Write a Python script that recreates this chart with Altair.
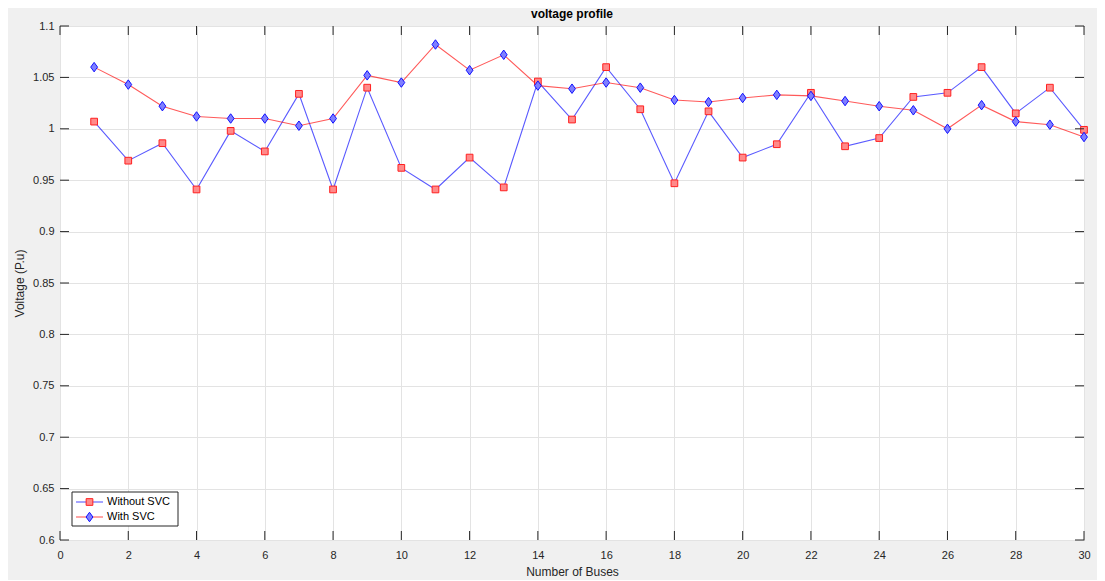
import altair as alt
import pandas as pd

# ---- data ----
buses = list(range(1, 31))
without_svc = [1.007, 0.969, 0.986, 0.941, 0.998, 0.978, 1.034, 0.941, 1.040, 0.962,
               0.941, 0.972, 0.943, 1.046, 1.009, 1.060, 1.019, 0.947, 1.017, 0.972,
               0.985, 1.035, 0.983, 0.991, 1.031, 1.035, 1.060, 1.015, 1.040, 0.999]
with_svc = [1.060, 1.043, 1.022, 1.012, 1.010, 1.010, 1.003, 1.010, 1.052, 1.045,
            1.082, 1.057, 1.072, 1.042, 1.039, 1.045, 1.040, 1.028, 1.026, 1.030,
            1.033, 1.032, 1.027, 1.022, 1.018, 1.000, 1.023, 1.007, 1.004, 0.992]
x_ticks = list(range(0, 31, 2))
y_ticks = [0.6, 0.65, 0.7, 0.75, 0.8, 0.85, 0.9, 0.95, 1.0, 1.05, 1.1]
legend_labels = ["Without SVC", "With SVC"]

W, H = 1024, 514
FONT = "Liberation Sans"
DIAMOND = "M0,-1L0.72,0L0,1L-0.72,0Z"

df_wo = pd.DataFrame({"bus": buses, "v": without_svc})
df_w = pd.DataFrame({"bus": buses, "v": with_svc})

xs = alt.Scale(domain=[0, 30], nice=False)
ys = alt.Scale(domain=[0.6, 1.1], nice=False, zero=False)

x_axis = alt.Axis(values=x_ticks, title="Number of Buses", grid=True, tickSize=0,
                  domain=False, labelPadding=9, titlePadding=6, format="d",
                  labelFlush=False)
y_axis = alt.Axis(values=y_ticks, title="Voltage (P.u)", grid=True, tickSize=0,
                  domain=False, labelPadding=6, titlePadding=6, format="~g",
                  labelFlush=False)

X = alt.X("bus:Q", scale=xs, axis=x_axis)
Y = alt.Y("v:Q", scale=ys, axis=y_axis)

line_wo = alt.Chart(df_wo).mark_line(color="#0000ff", strokeWidth=1.1, opacity=0.65).encode(x=X, y=Y)
pts_wo = alt.Chart(df_wo).mark_point(shape="square", size=45, filled=True, fill="#ff8a8a",
                                     stroke="#ff2020", strokeWidth=1, opacity=1).encode(x=X, y=Y)
line_w = alt.Chart(df_w).mark_line(color="#ff0000", strokeWidth=1.1, opacity=0.65).encode(x=X, y=Y)
pts_w = alt.Chart(df_w).mark_point(shape=DIAMOND, size=90, filled=True, fill="#7f7fff",
                                   stroke="#1010ff", strokeWidth=1, opacity=1).encode(x=X, y=Y)

# inward MATLAB-style ticks
xt = pd.DataFrame({"bus": x_ticks})
yt = pd.DataFrame({"v": y_ticks})
tick_col = "#262626"
XT = alt.X("bus:Q", scale=xs)
YT = alt.Y("v:Q", scale=ys)
t_bot = alt.Chart(xt).mark_rule(color=tick_col).encode(x=XT, y=alt.value(H), y2=alt.value(H - 9))
t_top = alt.Chart(xt).mark_rule(color=tick_col).encode(x=XT, y=alt.value(0), y2=alt.value(9))
t_left = alt.Chart(yt).mark_rule(color=tick_col).encode(y=YT, x=alt.value(0), x2=alt.value(9))
t_right = alt.Chart(yt).mark_rule(color=tick_col).encode(y=YT, x=alt.value(W), x2=alt.value(W - 9))

# legend box
one = pd.DataFrame({"a": [0]})
lg_box = alt.Chart(one).mark_rect(fill="white", stroke="#262626", strokeWidth=1).encode(
    x=alt.value(12), x2=alt.value(118), y=alt.value(466), y2=alt.value(500))
lg_l1 = alt.Chart(one).mark_rule(color="#0000ff", strokeWidth=1.1, opacity=0.65).encode(
    x=alt.value(16), x2=alt.value(43), y=alt.value(476))
lg_p1 = alt.Chart(one).mark_point(shape="square", size=45, filled=True, fill="#ff8a8a",
                                  stroke="#ff2020", strokeWidth=1, opacity=1).encode(
    x=alt.value(29.5), y=alt.value(476))
lg_t1 = alt.Chart(one).mark_text(align="left", baseline="middle", font=FONT, fontSize=11,
                                 color="#000000", text=legend_labels[0]).encode(
    x=alt.value(47), y=alt.value(476))
lg_l2 = alt.Chart(one).mark_rule(color="#ff0000", strokeWidth=1.1, opacity=0.65).encode(
    x=alt.value(16), x2=alt.value(43), y=alt.value(491))
lg_p2 = alt.Chart(one).mark_point(shape=DIAMOND, size=90, filled=True, fill="#7f7fff",
                                  stroke="#1010ff", strokeWidth=1, opacity=1).encode(
    x=alt.value(29.5), y=alt.value(491))
lg_t2 = alt.Chart(one).mark_text(align="left", baseline="middle", font=FONT, fontSize=11,
                                 color="#000000", text=legend_labels[1]).encode(
    x=alt.value(47), y=alt.value(491))

chart = alt.layer(
    line_wo, line_w, pts_wo, pts_w,
    t_bot, t_top, t_left, t_right,
    lg_box, lg_l1, lg_p1, lg_t1, lg_l2, lg_p2, lg_t2,
).properties(
    width=W, height=H,
    title=alt.TitleParams("voltage profile", font=FONT, fontSize=12, fontWeight="bold",
                          color="#000000", anchor="middle", offset=0, dy=1),
    background="#f0f0f0",
    padding={"left": 52, "top": 18, "right": 13, "bottom": 40},
    autosize=alt.AutoSizeParams(type="none"),
).configure_view(
    fill="white", stroke="#262626", strokeWidth=1
).configure_axis(
    labelFont=FONT, titleFont=FONT, labelFontSize=11, titleFontSize=12,
    labelColor="#262626", titleColor="#262626", titleFontWeight="normal",
    gridColor="#e3e3e3", gridWidth=1,
)

chart.save("out.html", embed_options={"renderer": "svg", "actions": False})
